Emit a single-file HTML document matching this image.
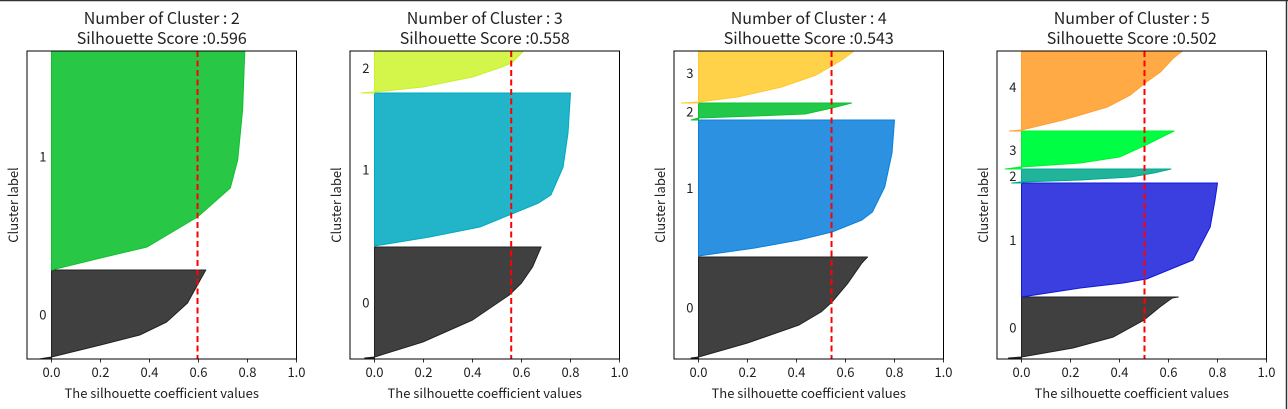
<!DOCTYPE html>
<html><head><meta charset="utf-8"><style>
html,body{margin:0;padding:0;background:#fff;}
svg{display:block;font-family:"Noto Sans CJK KR","Liberation Sans",sans-serif;}
</style></head><body>
<svg id="fig" width="1288" height="409" viewBox="0 0 1288 409" xmlns="http://www.w3.org/2000/svg">
<rect x="0" y="0" width="1288" height="409" fill="#fff"/>
<line x1="0" y1="0.5" x2="1288" y2="0.5" stroke="#333" stroke-width="1.5"/>
<line x1="1286.5" y1="0" x2="1286.5" y2="409" stroke="#333" stroke-width="1.5"/>
</svg>
<script>
const nClusters = [2, 3, 4, 5];
const scores = ["0.596", "0.558", "0.543", "0.502"];
const scoreValues = [0.596, 0.558, 0.543, 0.502];
const xTicks = [0, 0.2, 0.4, 0.6, 0.8, 1.0];
const xTickLabels = ["0.0", "0.2", "0.4", "0.6", "0.8", "1.0"];
// cluster profiles: y (sample position from bottom) and silhouette values
const p1c0y = [0, 2, 14, 24, 37, 56, 76, 89];
const p1c0v = [-0.05, 0, 0.2, 0.36, 0.47, 0.555, 0.6, 0.63];
const p1c1y = [89, 101, 112, 142, 171, 199, 249, 316];
const p1c1v = [0, 0.2, 0.39, 0.596, 0.73, 0.76, 0.78, 0.79];
const p2c0y = [1, 2, 17, 39, 64, 76, 92, 112];
const p2c0v = [-0.04, 0, 0.197, 0.4, 0.55, 0.6, 0.645, 0.68];
const p2c1y = [113, 122, 132, 144, 156, 164, 192, 226, 266];
const p2c1v = [0, 0.225, 0.43, 0.55, 0.67, 0.72, 0.77, 0.79, 0.8];
const p2c2y = [266, 267, 272, 282, 292, 296, 301, 316];
const p2c2v = [-0.055, 0, 0.197, 0.4, 0.52, 0.56, 0.58, 0.64];
const p3c0y = [1, 2, 16, 34, 47, 57, 76, 96, 102];
const p3c0v = [-0.03, 0, 0.2, 0.41, 0.5, 0.545, 0.61, 0.667, 0.69];
const p3c1y = [103, 111, 119, 127, 139, 147, 172, 206, 239];
const p3c1v = [0, 0.23, 0.41, 0.545, 0.667, 0.71, 0.76, 0.79, 0.8];
const p3c2y = [239, 241, 243, 245, 251, 256];
const p3c2v = [-0.03, 0, 0.23, 0.435, 0.545, 0.625];
const p3c3y = [256, 257, 262, 272, 284, 291, 299, 316];
const p3c3v = [-0.07, 0, 0.16, 0.34, 0.48, 0.53, 0.585, 0.68];
const p4c0y = [1, 2, 11, 22, 39, 52, 61, 62];
const p4c0v = [-0.053, 0, 0.21, 0.375, 0.5, 0.565, 0.615, 0.64];
const p4c1y = [62, 71, 76, 80, 99, 132, 159, 176];
const p4c1v = [0, 0.24, 0.415, 0.51, 0.7, 0.77, 0.79, 0.8];
const p4c2y = [176, 177, 179, 182, 186, 190];
const p4c2v = [-0.04, 0, 0.24, 0.445, 0.54, 0.61];
const p4c3y = [190, 192, 196, 202, 213, 221, 228];
const p4c3v = [-0.067, 0, 0.24, 0.4, 0.5, 0.565, 0.623];
const p4c4y = [228, 229, 239, 252, 264, 276, 287, 301, 316];
const p4c4v = [-0.05, 0, 0.17, 0.35, 0.444, 0.505, 0.567, 0.62, 0.7];

const panelsY = [[p1c0y, p1c1y], [p2c0y, p2c1y, p2c2y], [p3c0y, p3c1y, p3c2y, p3c3y], [p4c0y, p4c1y, p4c2y, p4c3y, p4c4y]];
const panelsV = [[p1c0v, p1c1v], [p2c0v, p2c1v, p2c2v], [p3c0v, p3c1v, p3c2v, p3c3v], [p4c0v, p4c1v, p4c2v, p4c3v, p4c4v]];
const fills = [["#404040", "#28c846"], ["#404040", "#22b4c8", "#d4f54a"], ["#404040", "#2b91e0", "#22c84a", "#ffd24a"], ["#404040", "#3b3fe0", "#22b49a", "#00ff44", "#ffaa44"]];
const strokes = [["#222", "#10c030"], ["#222", "#00aac0", "#c8f030"], ["#222", "#0a80d8", "#10c030", "#ffc830"], ["#222", "#1018d8", "#00a890", "#00f030", "#ffa030"]];

const NS = "http://www.w3.org/2000/svg";
const svg = document.getElementById("fig");
const axLefts = [27, 350, 674, 997];
const axW = 269.5, axTop = 51, axBottom = 359, yMax = 308;
function mk(tag, attrs, parent) { const e = document.createElementNS(NS, tag); for (const k in attrs) e.setAttribute(k, attrs[k]); (parent || svg).appendChild(e); return e; }

for (let p = 0; p < 4; p++) {
  const L = axLefts[p];
  const xs = v => L + (v + 0.1) / 1.1 * axW;
  const ys = y => axBottom - y / yMax * (axBottom - axTop);
  const g = mk("g", {});
  
  
  const clip = mk("clipPath", { id: "clip" + p }, g);
  mk("rect", { x: L, y: axTop, width: axW, height: axBottom - axTop }, clip);
  const plot = mk("g", { "clip-path": "url(#clip" + p + ")" }, g);
  const Ys = panelsY[p], Vs = panelsV[p];
  for (let c = 0; c < Ys.length; c++) {
    const yy = Ys[c], vv = Vs[c];
    let pts = [[xs(0), ys(yy[0])]];
    for (let i = 0; i < yy.length; i++) pts.push([xs(vv[i]), ys(yy[i])]);
    pts.push([xs(0), ys(yy[yy.length - 1])]);
    const poly = mk("polygon", { points: pts.map(q => q[0].toFixed(1) + "," + q[1].toFixed(1)).join(" "), fill: fills[p][c], stroke: strokes[p][c], "stroke-width": 1, "stroke-linejoin": "round" }, plot);
    
    
    const mid = (yy[0] + yy[yy.length - 1]) / 2;
    const t = mk("text", { x: xs(-0.05), y: ys(mid) + 5, "font-size": 13, fill: "#222" }, g);
    t.textContent = String(c);
    
    
  }
  const avg = mk("line", { x1: xs(scoreValues[p]), x2: xs(scoreValues[p]), y1: axTop, y2: axBottom, stroke: "#ff0000", "stroke-width": 2, "stroke-dasharray": "6,3.5" }, g);
  
  
  const frame = mk("rect", { x: L, y: axTop, width: axW, height: axBottom - axTop, fill: "none", stroke: "#000", "stroke-width": 1 }, g);
  
  
  for (let i = 0; i < xTicks.length; i++) {
    const x = xs(xTicks[i]);
    mk("line", { x1: x, x2: x, y1: axBottom, y2: axBottom + 3.5, stroke: "#000", "stroke-width": 0.8 }, g);
    const tl = mk("text", { x: x, y: axBottom + 18, "font-size": 13, "text-anchor": "middle", fill: "#222" }, g);
    tl.textContent = xTickLabels[i];
    
    
  }
  const cx = L + axW / 2;
  const xl = mk("text", { x: cx, y: 398, "font-size": 13, "text-anchor": "middle", fill: "#222" }, g);
  xl.textContent = "The silhouette coefficient values";
  
  
  const yl = mk("text", { x: 0, y: 0, "font-size": 13, "text-anchor": "middle", fill: "#222", transform: "translate(" + (L - 9) + "," + ((axTop + axBottom) / 2) + ") rotate(-90)" }, g);
  yl.textContent = "Cluster label";
  
  
  const t1 = mk("text", { x: cx, y: 24, "font-size": 16, "text-anchor": "middle", fill: "#222" }, g);
  t1.textContent = "Number of Cluster : " + nClusters[p];
  
  
  const t2 = mk("text", { x: cx, y: 44, "font-size": 16, "text-anchor": "middle", fill: "#222" }, g);
  t2.textContent = "Silhouette Score :" + scores[p];
  
  
}
</script>
</body></html>
